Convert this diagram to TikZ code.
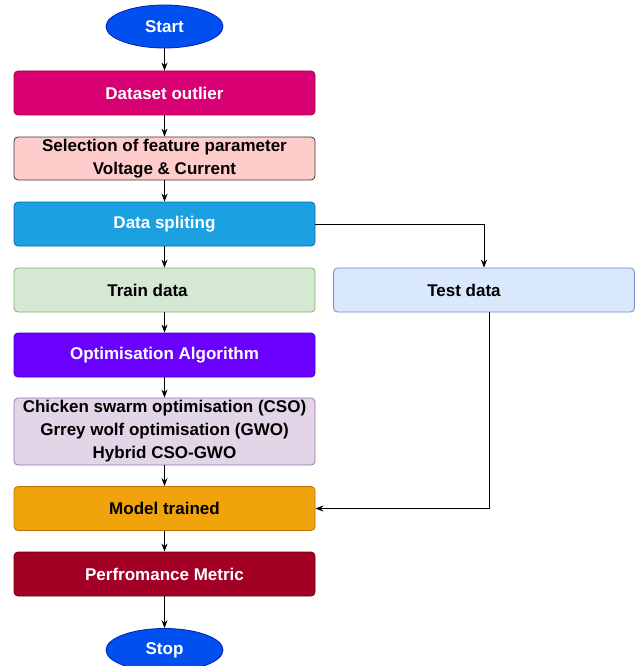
\documentclass[tikz,border=0pt]{standalone}
\usepackage{fontspec}
\setmainfont{Liberation Sans}
\usetikzlibrary{arrows.meta}
\usetikzlibrary{shapes.geometric}

\definecolor{termfill}{HTML}{0050EF}
\definecolor{termline}{HTML}{001DBC}
\definecolor{outfill}{HTML}{D80073}
\definecolor{outline}{HTML}{A50040}
\definecolor{selfill}{HTML}{FFCCCC}
\definecolor{selline}{HTML}{36393D}
\definecolor{splitfill}{HTML}{1BA1E2}
\definecolor{splitline}{HTML}{006EAF}
\definecolor{trainfill}{HTML}{D5E8D4}
\definecolor{trainline}{HTML}{82B366}
\definecolor{testfill}{HTML}{DAE8FC}
\definecolor{testline}{HTML}{6C8EBF}
\definecolor{optfill}{HTML}{6A00FF}
\definecolor{optline}{HTML}{3700CC}
\definecolor{algfill}{HTML}{E1D5E7}
\definecolor{algline}{HTML}{9673A6}
\definecolor{modelfill}{HTML}{F0A30A}
\definecolor{modelline}{HTML}{BD7000}
\definecolor{perffill}{HTML}{A20025}
\definecolor{perfline}{HTML}{6F0000}

\begin{document}
\begin{tikzpicture}[x=1pt, y=-1pt,
  font=\fontsize{17}{23}\selectfont\bfseries,
  box/.style={rectangle, rounded corners=4pt, minimum width=301pt,
    minimum height=44pt, inner sep=0pt, align=center, line width=0.8pt},
  term/.style={ellipse, minimum width=117pt, minimum height=43pt,
    inner sep=0pt, fill=termfill, draw=termline, text=white, line width=0.8pt},
  flow/.style={-{Stealth[length=8pt,width=6pt]}, line width=0.9pt}]
  \useasboundingbox (0,0) rectangle (636,666);
  \node[term] (Start) at (164.5,26.5) {Start};
  \node[box, fill=outfill, draw=outline, text=white] (Outlier) at (164.5,93) {Dataset outlier};
  \node[box, fill=selfill, draw=selline, minimum height=43pt] (Select) at (164.5,158.5)
    {Selection of feature parameter\\ Voltage \& Current};
  \node[box, fill=splitfill, draw=splitline, text=white] (Split) at (164.5,224) {Data spliting};
  \node[box, fill=trainfill, draw=trainline] (Train) at (164.5,290) {Train data\hspace*{34pt}};
  \node[box, fill=testfill, draw=testline] (Test) at (484,290) {Test data\hspace*{40pt}};
  \node[box, fill=optfill, draw=optline, text=white] (Optim) at (164.5,355) {Optimisation Algorithm};
  \node[box, fill=algfill, draw=algline, minimum height=67pt] (Algos) at (164.5,431.5)
    {Chicken swarm optimisation (CSO)\\ Grrey wolf optimisation (GWO)\\ Hybrid CSO-GWO};
  \node[box, fill=modelfill, draw=modelline] (Model) at (164.5,508.5) {Model trained};
  \node[box, fill=perffill, draw=perfline, text=white] (Perf) at (164.5,574) {Perfromance Metric};
  \node[term] (Stop) at (164.5,650) {Stop};
  \draw[flow] (Start) -- (Outlier);
  \draw[flow] (Outlier) -- (Select);
  \draw[flow] (Select) -- (Split);
  \draw[flow] (Split) -- (Train);
  \draw[flow] (Split.east) -| (Test.north);
  \draw[flow] (Train) -- (Optim);
  \draw[flow] (Optim) -- (Algos);
  \draw[flow] (Algos) -- (Model);
  \draw[flow] ([xshift=5pt]Test.south) |- (Model.east);
  \draw[flow] (Model) -- (Perf);
  \draw[flow] (Perf) -- (Stop);
\end{tikzpicture}
\end{document}
